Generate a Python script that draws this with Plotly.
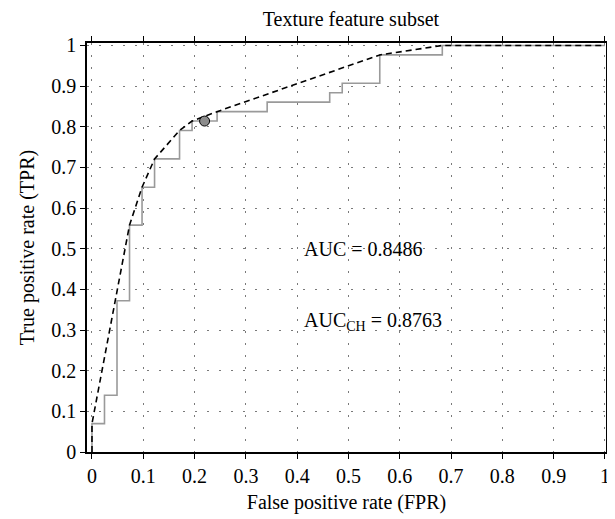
import plotly.graph_objects as go

# ROC step curve
roc_fpr = [0.0, 0.0, 0.0244, 0.0244, 0.0488, 0.0488, 0.0732, 0.0732, 0.0976, 0.0976,
           0.1220, 0.1220, 0.1707, 0.1707, 0.1951, 0.1951, 0.2439, 0.2439, 0.3415, 0.3415,
           0.4634, 0.4634, 0.4878, 0.4878, 0.5610, 0.5610, 0.6829, 0.6829, 1.0]
roc_tpr = [0.0, 0.0698, 0.0698, 0.1395, 0.1395, 0.3721, 0.3721, 0.5581, 0.5581, 0.6512,
           0.6512, 0.7209, 0.7209, 0.7907, 0.7907, 0.8140, 0.8140, 0.8372, 0.8372, 0.8605,
           0.8605, 0.8837, 0.8837, 0.9070, 0.9070, 0.9767, 0.9767, 1.0, 1.0]

# Convex hull (dashed)
hull_fpr = [0.0, 0.0, 0.0732, 0.0976, 0.1220, 0.1707, 0.1951, 0.2439, 0.5610, 0.6829, 1.0]
hull_tpr = [0.0, 0.0698, 0.5581, 0.6512, 0.7209, 0.7907, 0.8140, 0.8372, 0.9767, 1.0, 1.0]

# Operating point
op_fpr = [0.2195]
op_tpr = [0.8140]

tick_vals = [0, 0.1, 0.2, 0.3, 0.4, 0.5, 0.6, 0.7, 0.8, 0.9, 1]
tick_text = ["0", "0.1", "0.2", "0.3", "0.4", "0.5", "0.6", "0.7", "0.8", "0.9", "1"]

title_text = "Texture feature subset"
x_title = "False positive rate (FPR)"
y_title = "True positive rate (TPR)"
auc_text = "AUC = 0.8486"
auc_ch_text = "AUC<sub>CH</sub> = 0.8763"

FONT = "Liberation Serif, Times New Roman, serif"
FS = 20

fig = go.Figure()
fig.add_trace(go.Scatter(x=roc_fpr, y=roc_tpr, mode="lines",
                         line=dict(color="#9a9a9a", width=1.6), hoverinfo="skip"))
fig.add_trace(go.Scatter(x=hull_fpr, y=hull_tpr, mode="lines",
                         line=dict(color="black", width=1.6, dash="6px,4px"), hoverinfo="skip"))
fig.add_trace(go.Scatter(x=op_fpr, y=op_tpr, mode="markers",
                         marker=dict(size=10, color="#8c8c8c", line=dict(color="black", width=1)),
                         hoverinfo="skip"))

axis_common = dict(
    tickmode="array", tickvals=tick_vals, ticktext=tick_text,
    showline=True, linecolor="black", linewidth=1.6, mirror="ticks",
    ticks="outside", ticklen=5, tickwidth=1.3, tickcolor="black",
    showgrid=True, gridcolor="#7a7a7a", gridwidth=1, griddash="1.5px,10.5px",
    zeroline=False, automargin=False,
    tickfont=dict(family=FONT, size=FS, color="black"),
    title_font=dict(family=FONT, size=FS, color="black"),
)

fig.update_layout(
    width=607, height=511,
    margin=dict(l=79, r=9, t=35, b=67),
    paper_bgcolor="white", plot_bgcolor="white",
    showlegend=False,
    title=dict(text=title_text, x=0.565, xanchor="center", y=0.979, yanchor="middle",
               font=dict(family=FONT, size=FS, color="black")),
    xaxis=dict(range=[-0.0097, 1.002], title=dict(text=x_title, standoff=9), **axis_common),
    yaxis=dict(range=[0, 1.006], title=dict(text=y_title, standoff=11), **axis_common),
    annotations=[
        dict(x=0.41, y=0.5, xref="x", yref="y", text=auc_text, showarrow=False,
             xanchor="left", yanchor="middle", font=dict(family=FONT, size=FS, color="black")),
        dict(x=0.41, y=0.32, xref="x", yref="y", text=auc_ch_text, showarrow=False,
             xanchor="left", yanchor="middle", font=dict(family=FONT, size=FS, color="black")),
    ],
)

fig.write_html("out.html")
